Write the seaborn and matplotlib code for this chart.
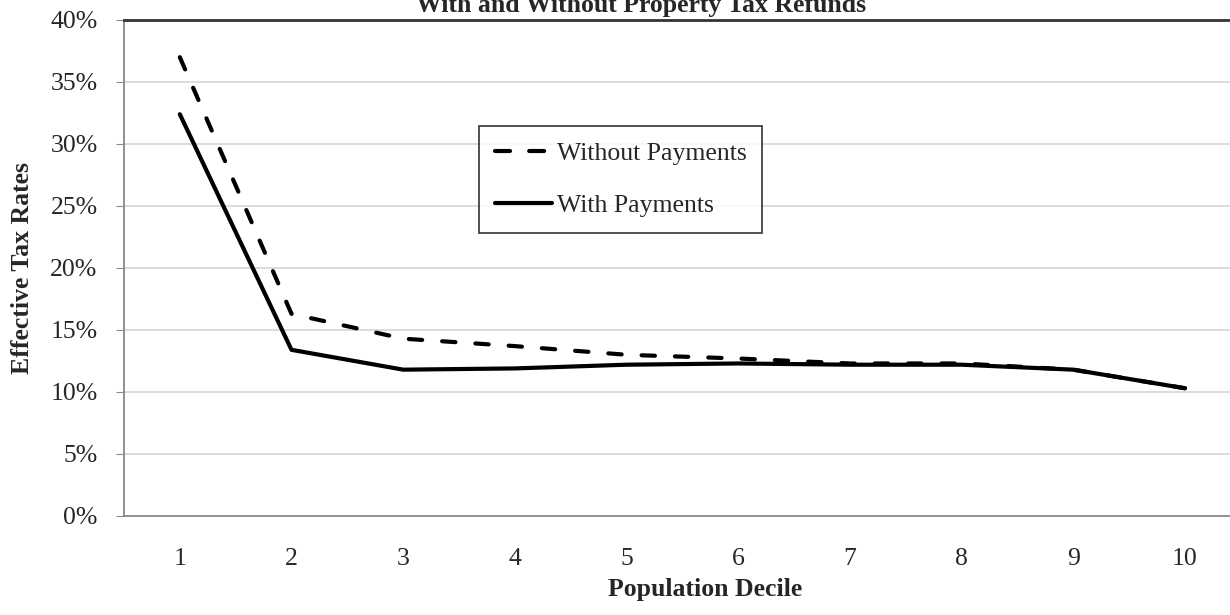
import numpy as np
import pandas as pd
import seaborn as sns
import matplotlib.pyplot as plt
from matplotlib.ticker import PercentFormatter, FixedLocator

# effective tax rate by population decile
deciles = [1, 2, 3, 4, 5, 6, 7, 8, 9, 10]
without_payments = [37.0, 16.3, 14.3, 13.7, 13.0, 12.7, 12.3, 12.3, 11.8, 10.3]
with_payments = [32.4, 13.4, 11.8, 11.9, 12.2, 12.3, 12.2, 12.2, 11.8, 10.3]
series_names = ["Without Payments", "With Payments"]

df = pd.DataFrame({
    "decile": deciles * 2,
    "rate": without_payments + with_payments,
    "series": [series_names[0]] * 10 + [series_names[1]] * 10,
})

sns.set_style("white")
plt.rcParams["font.family"] = ["Liberation Serif", "DejaVu Serif"]

fig = plt.figure(figsize=(12.3, 6.15), dpi=100)
ax = fig.add_axes([0.1008, 0.161, 0.908, 0.8065])

sns.lineplot(data=df, x="decile", y="rate", hue="series", style="series",
             palette=["black", "black"], dashes={series_names[0]: (3.2, 4.8), series_names[1]: ""},
             linewidth=3, ax=ax, legend=True)
for ln in ax.get_lines():
    ln.set_dash_capstyle("round")
    ln.set_solid_capstyle("round")

ax.set_xlim(0.5, 10.5)
ax.set_ylim(0, 40)
ax.yaxis.set_major_locator(FixedLocator(np.arange(0, 41, 5)))
ax.yaxis.set_major_formatter(PercentFormatter(decimals=0))
ax.grid(axis="y", color="#d9d9d9", linewidth=1.3)
ax.set_xticks(deciles)
ax.set_xticks(np.arange(0.5, 11, 1), minor=True)
ax.tick_params(axis="x", which="major", length=0, labelsize=18.5, pad=23)
ax.tick_params(axis="x", which="minor", length=6, color="#888888", direction="out")
ax.tick_params(axis="y", which="major", length=6, color="#888888", direction="out",
               labelsize=18.5, left=True, pad=13)
ax.set_xlabel("Population Decile", fontsize=18.5, fontweight="bold", labelpad=4)
ax.xaxis.set_label_coords(0.52, -0.125)
ax.set_ylabel("Effective Tax Rates", fontsize=18.5, fontweight="bold", labelpad=12)

for side in ["left", "bottom"]:
    ax.spines[side].set_color("#888888")
    ax.spines[side].set_linewidth(1.3)
ax.spines["top"].set_color("#333333")
ax.spines["top"].set_linewidth(2)
ax.spines["right"].set_color("#888888")

leg = ax.legend(title=None, loc="upper left", bbox_to_anchor=(0.318, 0.787),
                fontsize=18.5, frameon=True, fancybox=False, edgecolor="black",
                handlelength=2.2, handletextpad=0.2, borderpad=0.62, labelspacing=1.14,
                borderaxespad=0)
leg.get_frame().set_linewidth(1.2)
for h in leg.get_lines():
    h.set_dash_capstyle("round")
    h.set_solid_capstyle("round")
    if h.get_linestyle() != "-":
        h.set_dashes((3.6, 4.6))

fig.text(0.521, 0.981, "With and Without Property Tax Refunds", ha="center", va="baseline",
         fontsize=18.5, fontweight="bold")

fig.savefig("out.png", dpi=100)
